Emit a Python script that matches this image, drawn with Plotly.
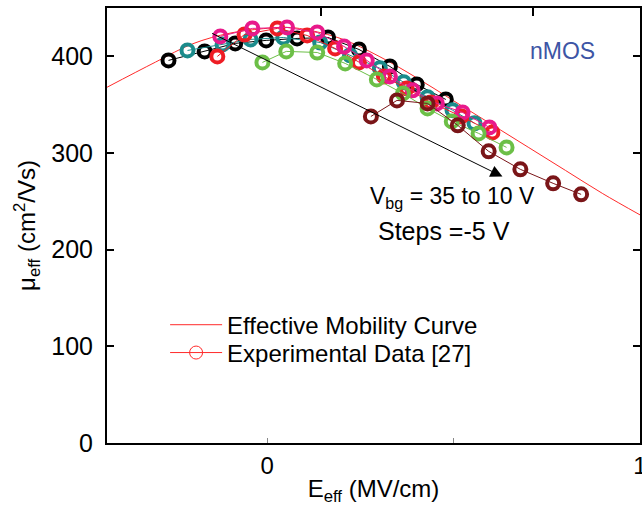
import plotly.graph_objects as go

# Effective mobility curve
curve_x = [-0.43, -0.3, -0.2, -0.1, 0.0, 0.05, 0.1, 0.2, 0.3, 0.4, 0.5, 0.6, 0.7, 0.8, 0.9, 1.0]
curve_y = [368, 394, 413, 424, 429, 430, 428, 418, 400, 378, 354, 330, 306, 282, 258, 236]

# Experimental data, Vbg = 35 .. 10 V
vbg35_x = [-0.265, -0.168, -0.086, -0.003, 0.080, 0.163, 0.246, 0.329, 0.401, 0.479]
vbg35_y = [395.8, 405.1, 413.4, 416.5, 418.5, 419.5, 407.1, 389.5, 370.9, 355.4]
vbg30_x = [-0.214, -0.120, -0.045, 0.043, 0.142, 0.222, 0.302, 0.366, 0.430, 0.497, 0.556]
vbg30_y = [406.1, 412.3, 417.5, 419.5, 414.3, 401.1, 387.7, 373.2, 357.7, 344.3, 330.8]
vbg25_x = [-0.134, -0.061, 0.027, 0.107, 0.182, 0.246, 0.313, 0.374, 0.439, 0.521, 0.604]
vbg25_y = [399.9, 422.6, 428.9, 421.6, 408.2, 393.7, 379.2, 366.8, 352.3, 337.8, 321.3]
vbg20_x = [-0.126, -0.040, 0.053, 0.134, 0.206, 0.267, 0.329, 0.390, 0.455, 0.524, 0.596]
vbg20_y = [420.6, 428.9, 429.9, 424.7, 410.2, 395.8, 379.2, 364.8, 351.3, 342.0, 326.5]
vbg15_x = [-0.013, 0.051, 0.134, 0.209, 0.294, 0.364, 0.430, 0.495, 0.567, 0.642]
vbg15_y = [393.7, 405.1, 404.0, 392.7, 376.1, 361.6, 346.1, 332.7, 320.3, 305.8]
vbg10_x = [0.278, 0.348, 0.430, 0.511, 0.594, 0.679, 0.767, 0.842]
vbg10_y = [337.8, 354.4, 351.3, 328.6, 301.7, 283.1, 268.6, 257.2]

series = [
    (vbg35_x, vbg35_y, "#000000"),
    (vbg30_x, vbg30_y, "#1b8b8b"),
    (vbg25_x, vbg25_y, "#ee1d25"),
    (vbg20_x, vbg20_y, "#e8198b"),
    (vbg15_x, vbg15_y, "#6cbf47"),
    (vbg10_x, vbg10_y, "#7a1518"),
]

x_tickvals = [0, 0.5, 1]
x_ticktext = ["0", "", "1"]
top_tickvals = [0.144, 0.714]
y_tickvals = [0, 100, 200, 300, 400]

FONT = "Arial, Liberation Sans, sans-serif"

fig = go.Figure()

fig.add_trace(go.Scatter(
    x=curve_x, y=curve_y, mode="lines", line=dict(color="#ff2a2a", width=1),
    line_shape="spline", name="Effective Mobility Curve", showlegend=True, legend="legend"))

for sx, sy, col in series:
    fig.add_trace(go.Scatter(
        x=sx, y=sy, mode="lines+markers",
        line=dict(color=col, width=1),
        marker=dict(symbol="circle-open", size=12, color=col, line=dict(width=4, color=col)),
        showlegend=False))

fig.add_trace(go.Scatter(
    x=[None], y=[None], mode="lines+markers",
    line=dict(color="#ff2a2a", width=1),
    marker=dict(symbol="circle-open", size=13, color="#ff2a2a", line=dict(width=1, color="#ff2a2a")),
    name="Experimental Data [27]", showlegend=True, legend="legend2"))

# invisible trace for top axis
fig.add_trace(go.Scatter(x=[None], y=[None], xaxis="x2", showlegend=False, hoverinfo="skip"))

fig.add_annotation(x=0.631, y=275.6, ax=-0.152, ay=424.5, xref="x", yref="y", axref="x", ayref="y",
                   showarrow=True, arrowhead=2, arrowsize=2.4, arrowwidth=1, arrowcolor="black", text="")

fig.add_annotation(x=0.791, y=406, text="nMOS", showarrow=False,
                   font=dict(family=FONT, size=23, color="#3d55a5"))
fig.add_annotation(x=0.27, y=254, xanchor="left", text="V<sub>bg</sub> = 35 to 10 V", showarrow=False,
                   font=dict(family=FONT, size=23, color="black"))
fig.add_annotation(x=0.292, y=219, xanchor="left", text="Steps =-5 V", showarrow=False,
                   font=dict(family=FONT, size=25, color="black"))

legend_common = dict(xanchor="left", yanchor="middle", bgcolor="rgba(0,0,0,0)",
                     font=dict(family=FONT, size=24, color="black"), itemwidth=52)

fig.update_layout(
    width=642, height=506,
    margin=dict(l=107, r=2, t=8, b=63),
    paper_bgcolor="white", plot_bgcolor="white",
    font=dict(family=FONT, size=24, color="black"),
    showlegend=True,
    legend=dict(x=0.109, y=0.271, **legend_common),
    legend2=dict(x=0.109, y=0.207, **legend_common),
    xaxis=dict(range=[-0.43, 1.0], tickvals=x_tickvals, ticktext=x_ticktext, automargin=False,
               showline=True, linecolor="black", linewidth=2, mirror=True,
               ticks="inside", ticklen=5, tickwidth=1, tickcolor="#888888",
               showgrid=False, zeroline=False, ticklabeloverflow="allow",
               title=dict(text="E<sub>eff</sub> (MV/cm)", font=dict(size=24), standoff=4),
               tickfont=dict(size=24)),
    xaxis2=dict(range=[-0.43, 1.0], overlaying="x", side="top", anchor="y", automargin=False,
                tickvals=top_tickvals, showticklabels=False, ticks="inside", ticklen=8,
                tickwidth=2, tickcolor="black", showgrid=False, zeroline=False, showline=False),
    yaxis=dict(range=[0, 450], tickvals=y_tickvals, showline=True, linecolor="black", linewidth=2,
               mirror="ticks", ticks="inside", ticklen=7, tickwidth=2, tickcolor="black",
               showgrid=False, zeroline=False, automargin=False, ticklabelstandoff=7,
               title=dict(text="μ<sub>eff</sub> (cm<sup>2</sup>/Vs)", font=dict(size=24), standoff=9),
               tickfont=dict(size=25)),
)

fig.write_html("out.html", config={"displayModeBar": False},
               post_script="document.body.style.margin='0';document.body.style.overflow='hidden';")
